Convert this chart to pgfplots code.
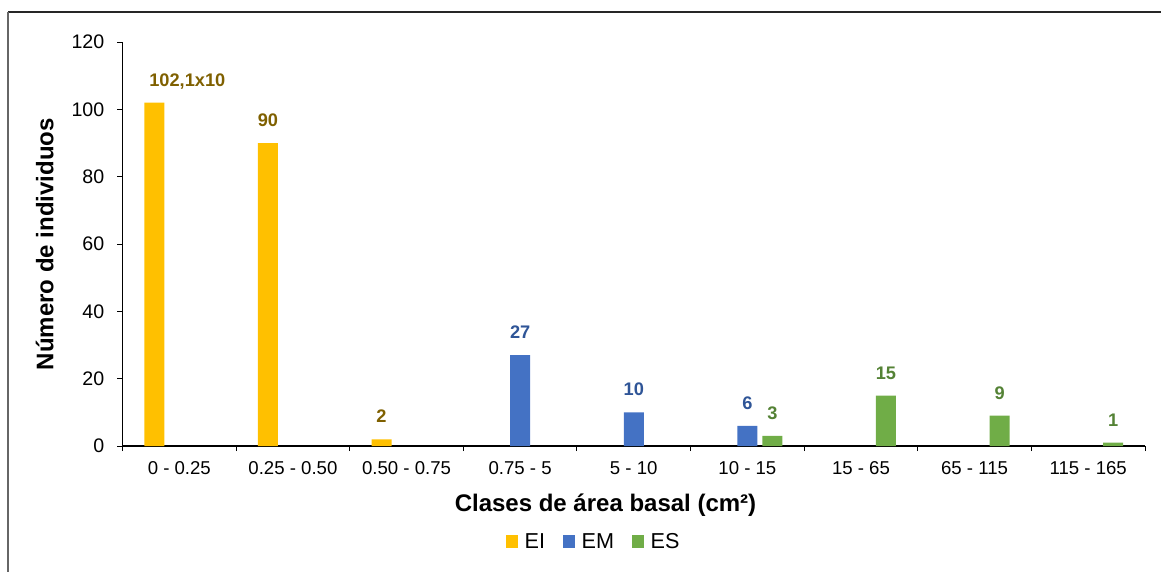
\documentclass[border=0pt]{standalone}
\usepackage{fontspec}
\setmainfont{Liberation Sans}
\usepackage{pgfplots}
\usepackage{pgfplotstable}
\pgfplotsset{compat=1.18}
\definecolor{cEI}{HTML}{FFC000}
\definecolor{cEM}{HTML}{4472C4}
\definecolor{cES}{HTML}{70AD47}
\definecolor{lEI}{HTML}{7F6000}
\definecolor{lEM}{HTML}{2F5597}
\definecolor{lES}{HTML}{548235}

\pgfplotstableread{
x y dx lab
0 102 16.5 102,1x10
1 90 0 90
2 2 0 2
}\EI
\pgfplotstableread{
x y dx lab
3 27 0 27
4 10 0 10
5 6 0 6
}\EM
\pgfplotstableread{
x y dx lab
5 3 0 3
6 15 0 15
7 9 0 9
8 1 0 1
}\ES

\begin{document}
\begin{tikzpicture}
\useasboundingbox (0pt,0pt) rectangle (580.5pt,-286pt);
\draw[line width=0.6pt, black!85] (581pt,-6pt) -- (4pt,-6pt);
\draw[line width=0.6pt, black!60] (4pt,-6pt) -- (4pt,-287pt);
\begin{axis}[
  at={(61.25pt,-223pt)}, anchor=south west,
  width=511.25pt, height=202pt, scale only axis,
  xmin=-0.5, xmax=8.5, ymin=0, ymax=120,
  axis x line*=bottom, axis y line*=left,
  axis line style={black, line width=0.6pt},
  ytick={0,20,...,120},
  xtick={0,...,8},
  xticklabels={0 - 0.25, 0.25 - 0.50, 0.50 - 0.75, 0.75 - 5, 5 - 10, 10 - 15, 15 - 65, 65 - 115, 115 - 165},
  minor xtick={-0.5,0.5,...,8.5},
  tick align=outside,
  major tick length=2.6pt, minor tick length=2.6pt,
  tick style={black, line width=0.5pt},
  major x tick style={draw=none},
  x tick label style={font=\fontsize{9.3}{11}\selectfont, yshift=-1.5pt},
  y tick label style={font=\fontsize{9.8}{11}\selectfont, xshift=-3pt},
  /pgf/number format/assume math mode=true,
  ybar=2.5pt, bar width=10pt,
  xlabel={\textbf{Clases de área basal (cm²)}},
  ylabel={\textbf{Número de individuos}},
  every axis x label/.style={at={(axis description cs:0.4724,-0.161)}, anchor=base, font=\fontsize{12}{14}\selectfont},
  every axis y label/.style={at={(axis description cs:-0.0677,0.5)}, rotate=90, anchor=base, font=\fontsize{12}{14}\selectfont},
  legend columns=3,
  legend style={draw=none, fill=none, at={(axis description cs:0.4618,-0.2389)}, anchor=center,
    font=\fontsize{10.8}{12}\selectfont,
    /tikz/every even column/.append style={column sep=7pt}},
  nodes near coords={\smash{\pgfplotspointmeta}},
  point meta=explicit symbolic,
  every node near coord/.append style={font=\bfseries\fontsize{9.1}{11}\selectfont, inner sep=0pt, yshift=7.5pt, xshift=\dx},
  visualization depends on={\thisrow{dx} \as \dx},
]
\addplot[fill=cEI, draw=none, every node near coord/.append style={text=lEI},
  legend image code/.code={\fill[cEI] (0pt,-2.6pt) rectangle (6.15pt,3.55pt); \path (7.3pt,0pt);}]
  table[x=x, y=y, meta=lab] {\EI};
\addplot[fill=cEM, draw=none, every node near coord/.append style={text=lEM},
  legend image code/.code={\fill[cEM] (0pt,-2.6pt) rectangle (6.15pt,3.55pt); \path (7.3pt,0pt);}]
  table[x=x, y=y, meta=lab] {\EM};
\addplot[fill=cES, draw=none, every node near coord/.append style={text=lES},
  legend image code/.code={\fill[cES] (0pt,-2.6pt) rectangle (6.15pt,3.55pt); \path (7.3pt,0pt);}]
  table[x=x, y=y, meta=lab] {\ES};
\legend{EI, EM, ES}
\end{axis}
\end{tikzpicture}
\end{document}
